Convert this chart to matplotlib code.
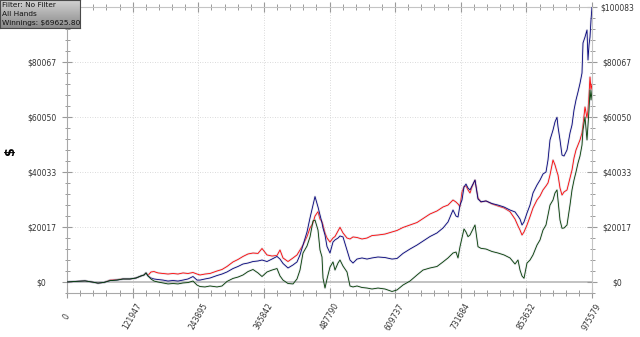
import matplotlib
matplotlib.use("Agg")
import matplotlib.pyplot as plt
import matplotlib.patheffects as pe
import numpy as np
from matplotlib.ticker import MultipleLocator, FixedLocator, FuncFormatter
from matplotlib.colors import LinearSegmentedColormap

# Cumulative results ($) sampled along the hand count
hands = [0, 14866, 33449, 46456, 57606, 68755, 79905, 92913, 104062, 117070,
         128219, 137511, 143085, 146802, 150518, 156093, 161668, 169101, 178392, 187683,
         196975, 206266, 215557, 224848, 234140, 241573, 247147, 256439, 265730, 278738,
         288029, 297320, 308470, 317761, 327052, 336343, 345635, 354926, 362359, 371650,
         380941, 390233, 395807, 401382, 410673, 419965, 427397, 432972, 438547, 445980,
         451554, 457129, 460846, 466420, 470137, 473853, 475712, 479428, 483145, 488719,
         494294, 498011, 503585, 507302, 512877, 520310, 525884, 531459, 538892, 548183,
         557475, 566766, 577916, 590923, 603931, 613222, 624372, 637380, 650388, 661537,
         674545, 687553, 698702, 707993, 717285, 722860, 726576, 730293, 734009, 737726,
         741442, 745159, 748876, 752592, 758167, 763741, 769316, 778607, 789756, 800906,
         812055, 823205, 832496, 838071, 841787, 845504, 849220, 854795, 860370, 865945,
         873378, 878952, 884527, 890102, 893818, 897535, 903110, 906826, 910543, 912401,
         916118, 919834, 923551, 929125, 934700, 938417, 942133, 945850, 949566, 953283,
         956999, 958857, 962574, 966290, 968149, 970007, 971866, 973724, 975579]

red = [0, 200, 400, 0, -400, -150, 700, 900, 1100, 1100,
       1450, 2200, 2550, 3300, 2400, 3650, 3800, 3300, 3100, 2900,
       3100, 2900, 3300, 3100, 3450, 2900, 2550, 2900, 3100, 4000,
       4550, 5650, 7300, 8200, 9300, 10200, 10550, 10400, 12200, 9850,
       9450, 9650, 11650, 8750, 7450, 8750, 9850, 11650, 13450, 16550,
       19650, 21500, 24000, 25600, 22900, 21950, 20750, 17850, 16000, 14550,
       16000, 16550, 18550, 19900, 17850, 16000, 15650, 16400, 16200, 15650,
       16000, 16900, 17100, 17450, 18200, 18750, 19850, 20750, 21650, 23100,
       24750, 25850, 27300, 28000, 29850, 29100, 28400, 27400, 32750, 34700,
       34950, 33500, 32400, 34600, 37100, 30600, 29100, 29500, 28400, 27650,
       26950, 25600, 22900, 20400, 18900, 17100, 18200, 20750, 23750, 26950,
       29850, 31300, 33500, 34950, 36050, 38950, 44400, 42600, 40050, 38950,
       34200, 31650, 32750, 33500, 37850, 40750, 45150, 48050, 49850, 51700,
       54250, 57150, 63700, 59700, 62600, 68050, 74600, 69900, 72050]

blue = [0, 200, 400, 0, -400, -150, 500, 700, 1100, 1100,
        1450, 2200, 2550, 3300, 2200, 1450, 1100, 900, 700, 350,
        550, 350, 700, 1100, 2000, 700, 700, 1100, 1450, 2350,
        2900, 3650, 4900, 5650, 6550, 6900, 7450, 7650, 8000, 7450,
        8350, 9300, 8350, 6750, 5100, 6200, 7300, 9850, 13450, 18200,
        23300, 28000, 31100, 27300, 24400, 21500, 19650, 17100, 12900, 10550,
        14550, 15300, 16000, 16750, 16400, 11650, 8000, 6900, 8350, 8750,
        8350, 8750, 9100, 8900, 8350, 8550, 10400, 12000, 13450, 14900,
        16550, 17850, 19650, 21850, 26200, 24000, 23650, 28000, 29850, 34600,
        35650, 34200, 33500, 34950, 37100, 30200, 29200, 29500, 28550, 28000,
        27300, 26200, 25500, 24000, 22900, 20750, 21850, 25100, 28000, 32400,
        35300, 37100, 39300, 40050, 44400, 51700, 55300, 58250, 59950, 56500,
        51700, 46200, 45850, 48050, 54250, 57150, 62600, 66250, 69150, 72300,
        76050, 87000, 89150, 91700, 80800, 86250, 89150, 95350, 100083.3]

green = [0, 200, 400, 0, -400, -150, 500, 700, 1100, 1100,
         1450, 2200, 2550, 3300, 2200, 1100, 350, 0, -350, -700,
         -550, -700, -350, -200, 350, -1100, -1650, -1800, -1450, -1800,
         -1450, 200, 1300, 1800, 2550, 3800, 4550, 3300, 2000, 3650,
         4350, 4900, 2200, 700, -550, -700, 1100, 4350, 10550, 13100,
         16400, 22200, 22550, 18900, 11650, 9100, 1450, -2200, 1100, 5450,
         7300, 4350, 6900, 8000, 5800, 3650, -1450, -1800, -1450, -2000,
         -2200, -2550, -2200, -2550, -3450, -2900, -1100, 350, 2550, 4350,
         5100, 5650, 7300, 8750, 10550, 10900, 8750, 12850, 16000, 19300,
         18200, 16500, 17100, 18550, 20750, 12850, 12250, 12000, 11100, 10550,
         9850, 8750, 6550, 8000, 4350, 2200, 1350, 6900, 8000, 9850,
         13450, 15300, 18900, 20750, 24400, 28000, 29850, 32400, 33500, 29850,
         22550, 19550, 19650, 20750, 28000, 33500, 37100, 40050, 43300, 45850,
         49850, 55300, 60050, 51700, 57150, 62600, 69900, 66250, 69625.80]

series = [("red", red, "#ff0000"), ("blue", blue, "#00007a"), ("green", green, "#003c00")]

total_hands = hands[-1]
x_divisions = 8
y_divisions = 5
minor_per_major = 5

fig = plt.figure(figsize=(6.4, 3.37), dpi=100)
fig.patch.set_facecolor("white")
ax = fig.add_axes([67 / 640, 1 - 293 / 337, 525 / 640, 286 / 337])
ax.set_facecolor("white")

y_top = max(max(red), max(blue), max(green))
y_step = y_top / y_divisions
ax.set_xlim(0, total_hands)
ax.set_ylim(-y_step / minor_per_major, y_top)

x_major = [total_hands * k / x_divisions for k in range(x_divisions + 1)]
y_major = [y_step * k for k in range(y_divisions + 1)]
ax.xaxis.set_major_locator(FixedLocator(x_major))
ax.yaxis.set_major_locator(FixedLocator(y_major))
ax.xaxis.set_minor_locator(MultipleLocator(total_hands / x_divisions / minor_per_major))
ax.yaxis.set_minor_locator(MultipleLocator(y_step / minor_per_major))
ax.xaxis.set_major_formatter(FuncFormatter(lambda v, p: f"{v:.0f}"))
ax.yaxis.set_major_formatter(FuncFormatter(lambda v, p: f"${v:.0f}"))

# dotted grid and solid zero line
for v in y_major[1:-1]:
    ax.axhline(v, color="#cfcfcf", lw=0.6, ls=(0, (1, 2)), zorder=1)
for v in x_major[1:-1]:
    ax.axvline(v, color="#cfcfcf", lw=0.6, ls=(0, (1, 2)), zorder=1)
ax.axhline(0, color="#b8b8b8", lw=1.2, zorder=1)

halo = [pe.Stroke(linewidth=1.7, foreground="#b4b4c4", alpha=0.35), pe.Normal()]
for name, vals, col in series:
    ax.plot(hands, vals, color=col, lw=0.6, zorder=3, path_effects=halo)

for side in ["left", "bottom"]:
    ax.spines[side].set_color("#a8a8a8")
for side in ["right", "top"]:
    ax.spines[side].set_color("#c4c4c4")

tick_col = "#9a9a9a"
ax.tick_params(axis="x", which="major", direction="inout", length=7, width=0.8,
               color=tick_col, top=True, bottom=True, labelsize=5.5,
               labelcolor="#333333", pad=13.5)
ax.tick_params(axis="x", which="minor", direction="inout", length=4.3, width=0.7,
               color=tick_col, top=True, bottom=True)
ax.tick_params(axis="y", which="major", direction="inout", length=6.5, width=0.8,
               color=tick_col, left=True, right=True, labelleft=True, labelright=True,
               labelsize=5.5, labelcolor="#333333", pad=15)
ax.tick_params(axis="y", which="minor", direction="inout", length=3.6, width=0.7,
               color=tick_col, left=True, right=True)

for t in ax.xaxis.get_major_ticks():
    t.label1.set_rotation(60)
    t.label1.set_ha("center")
    t.label1.set_va("center")
    t.label1.set_rotation_mode("anchor")
y_ticks = ax.yaxis.get_major_ticks()
for t in y_ticks:
    t.label1.set_ha("center")
    t.label2.set_ha("center")
# the corner panel sits over the top-left value label
y_ticks[-1].label1.set_visible(False)

fig.text(11 / 640, 1 - 151 / 337, "$", fontsize=9, fontweight="bold",
         rotation=90, ha="center", va="center")

# info panel in the corner
bax = fig.add_axes([0, 1 - 28 / 337, 80 / 640, 28 / 337])
grad_cmap = LinearSegmentedColormap.from_list("panel", ["#d2d2d2", "#8a8a8a"])
bax.imshow(np.linspace(0, 1, 64).reshape(-1, 1), cmap=grad_cmap, aspect="auto",
           extent=[0, 1, 0, 1], origin="upper")
bax.set_xlim(0, 1)
bax.set_ylim(0, 1)
bax.set_xticks([])
bax.set_yticks([])
for s in bax.spines.values():
    s.set_color("#4a4a4a")
    s.set_linewidth(0.8)
panel_lines = ["Filter: No Filter", "All Hands", f"Winnings: ${green[-1]:.2f}"]
for i, line in enumerate(panel_lines):
    fig.text(2 / 640, 1 - (5 + 9 * i) / 337, line, fontsize=5.3, color="#111111",
             ha="left", va="center")

fig.savefig("out.png", dpi=100, facecolor="white")
